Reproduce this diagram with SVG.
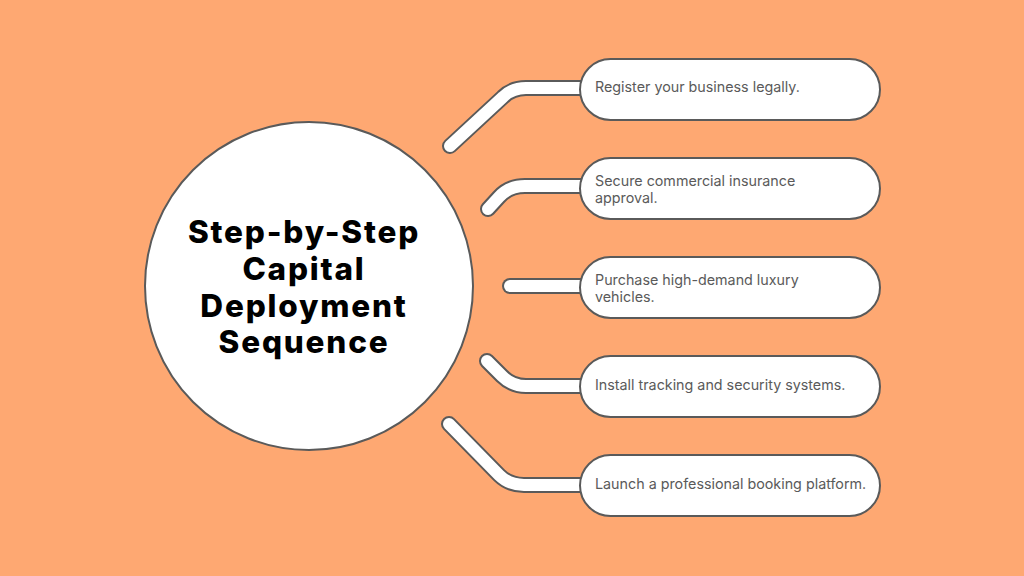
<svg xmlns="http://www.w3.org/2000/svg" width="1024" height="576" viewBox="0 0 1024 576">
<style>
.bar-o{fill:none;stroke:#5a5a5a;stroke-width:16;stroke-linecap:round;stroke-linejoin:round}
.bar-i{fill:none;stroke:#ffffff;stroke-width:12;stroke-linecap:round;stroke-linejoin:round}
.pill{fill:#ffffff;stroke:#5a5a5a;stroke-width:2}
.lbl{font-family:Inter,"Noto Sans","Liberation Sans",sans-serif;font-size:14.3px;fill:#5a5a5a}
.title{font-family:Inter,"Liberation Sans",sans-serif;font-weight:800;font-size:31.5px;letter-spacing:1.8px;fill:#000;text-anchor:middle}
</style>
<rect width="1024" height="576" fill="#fea872"/>
<g id="connectors">
<path class="bar-o" d="M450,146 L503,97 Q512,88 526,88 L585,88"/>
<path class="bar-i" d="M450,146 L503,97 Q512,88 526,88 L585,88"/>
<path class="bar-o" d="M488,209 L499,197 Q509,186 525,186 L585,186"/>
<path class="bar-i" d="M488,209 L499,197 Q509,186 525,186 L585,186"/>
<path class="bar-o" d="M510,286 L585,286"/>
<path class="bar-i" d="M510,286 L585,286"/>
<path class="bar-o" d="M487,361 L502,376 Q512,386 526,386 L585,386"/>
<path class="bar-i" d="M487,361 L502,376 Q512,386 526,386 L585,386"/>
<path class="bar-o" d="M449,424 L499,475 Q509,485 524,485 L585,485"/>
<path class="bar-i" d="M449,424 L499,475 Q509,485 524,485 L585,485"/>
</g>
<g id="center">
<circle cx="309" cy="286" r="164" fill="#ffffff" stroke="#5a5a5a" stroke-width="2"/>
<text class="title" x="304" y="243">Step-by-Step</text>
<text class="title" x="304" y="280">Capital</text>
<text class="title" x="304" y="317">Deployment</text>
<text class="title" x="304" y="353">Sequence</text>
</g>
<g id="step1">
<rect class="pill" x="580" y="59" width="300" height="61" rx="30.5"/>
<text class="lbl" x="595" y="92">Register your business legally.</text>
</g>
<g id="step2">
<rect class="pill" x="580" y="158" width="300" height="61" rx="30.5"/>
<text class="lbl" x="595" y="186">Secure commercial insurance</text>
<text class="lbl" x="595" y="203">approval.</text>
</g>
<g id="step3">
<rect class="pill" x="580" y="257" width="300" height="61" rx="30.5"/>
<text class="lbl" x="595" y="285">Purchase high-demand luxury</text>
<text class="lbl" x="595" y="302">vehicles.</text>
</g>
<g id="step4">
<rect class="pill" x="580" y="356" width="300" height="61" rx="30.5"/>
<text class="lbl" x="595" y="390">Install tracking and security systems.</text>
</g>
<g id="step5">
<rect class="pill" x="580" y="455" width="300" height="61" rx="30.5"/>
<text class="lbl" x="595" y="489">Launch a professional booking platform.</text>
</g>
</svg>
